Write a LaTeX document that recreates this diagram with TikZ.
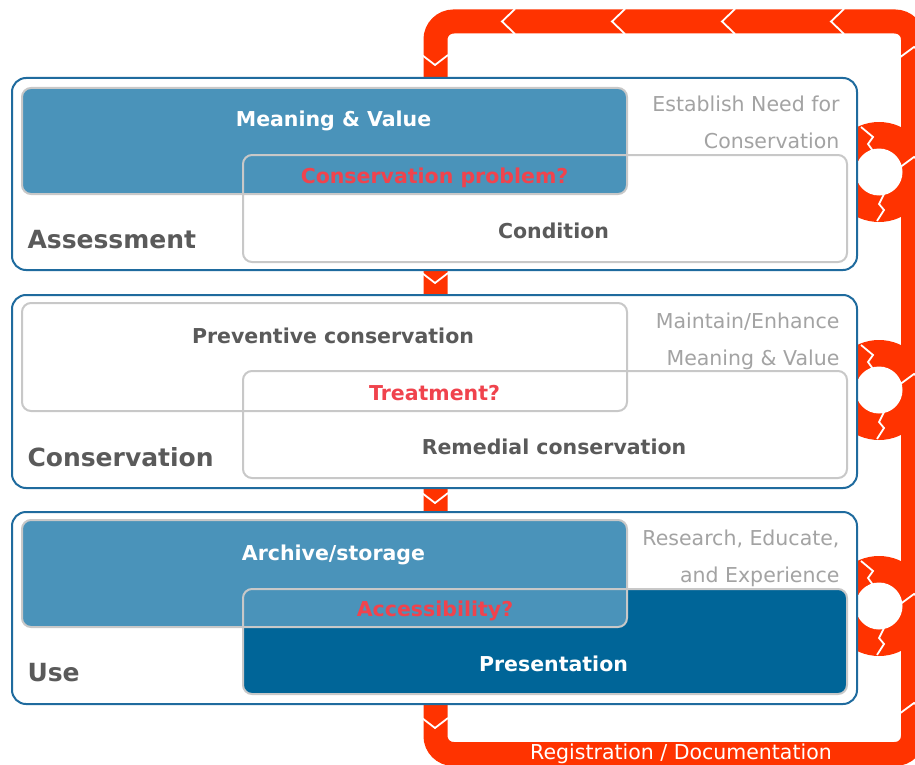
\documentclass[tikz,border=0pt]{standalone}
\usepackage{fontspec}
\setmainfont{DejaVu Sans}
\usetikzlibrary{calc}
\definecolor{looprd}{HTML}{FF3300}
\definecolor{panelblue}{HTML}{1F6B9E}
\definecolor{lightbox}{HTML}{4A93BA}
\definecolor{darkbox}{HTML}{006598}
\definecolor{boxgrey}{HTML}{C8C8C8}
\definecolor{labelgrey}{HTML}{5A5A5A}
\definecolor{askred}{HTML}{F0434D}
\definecolor{notegrey}{HTML}{A3A3A3}

\begin{document}
\begin{tikzpicture}[x=1pt,y=-1pt,
    panel/.style={draw=panelblue, line width=2pt, fill=white, rounded corners=14pt},
    box/.style={draw=boxgrey, line width=2pt, rounded corners=9pt},
    cut/.style={white, line width=1.8pt},
    boxtext/.style={font=\fontsize{20.5}{24}\selectfont\bfseries, anchor=base},
    asktext/.style={boxtext, text=askred},
    section/.style={font=\fontsize{25}{30}\selectfont\bfseries, text=labelgrey, anchor=base west},
    note/.style={font=\fontsize{20.5}{24}\selectfont, text=notegrey, anchor=base east}]
        \useasboundingbox (0,0) rectangle (915,765);
        \clip (0,0) rectangle (915,765);
        % Draw the registration loop
        \draw[looprd, line width=24pt, rounded corners=18pt] (435.5,21.5) rectangle (913,754);
        \foreach \cy in {172,390,606} {
            \fill[looprd] (879,\cy) circle (50pt);
            \fill[white] (879,\cy) circle (23.5pt);
            \draw[cut] ($(879,\cy)+(-18,-45)$) -- ++(12,10) -- ++(-5,7) -- ++(5,7);
            \draw[cut] ($(879,\cy)+(5,22)$) -- ++(-5,10) -- ++(5,6) -- ++(-7,11);
        }
        % Add chevrons to the loop
        \foreach \x in {502,612,722,831} \draw[cut] (\x+13,9) -- (\x,21.5) -- (\x+13,34);
        \foreach \y in {65,283,503,728} \draw[cut] (422,\y-10) -- (435,\y) -- (448,\y-10);
        \foreach \y in {47,157,374,594,703} \draw[cut] (899,\y+11) -- (914,\y) -- (929,\y+11);
        \node[font=\fontsize{20.5}{24}\selectfont, text=white, anchor=base] (registration) at (681,759.5) {Registration / Documentation};
        % Assessment
        \draw[panel] (12,78) rectangle (857,270);
        \draw[box, fill=lightbox] (22,88) rectangle (627,194);
        \draw[box] (243,155) rectangle (847,262);
        \node[boxtext, text=white] (meaning) at (333.5,127) {Meaning \& Value};
        \node[asktext] (problem) at (434.5,183) {Conservation problem?};
        \node[boxtext, text=labelgrey] (condition) at (553.5,238) {Condition};
        \node[section] (assessment) at (24,248.5) {Assessment};
        \node[note] (need) at (843,112) {Establish Need for};
        \node[note] (needb) at (843,149) {Conservation};
        % Conservation
        \draw[panel] (12,295) rectangle (857,488);
        \draw[box] (22,303) rectangle (627,411);
        \draw[box] (243,371) rectangle (847,478);
        \node[boxtext, text=labelgrey] (preventive) at (333,343) {Preventive conservation};
        \node[asktext] (treatment) at (434.5,400) {Treatment?};
        \node[boxtext, text=labelgrey] (remedial) at (554,454) {Remedial conservation};
        \node[section] (conservation) at (24,466.5) {Conservation};
        \node[note] (maintain) at (843,328) {Maintain/Enhance};
        \node[note] (maintainb) at (843,365) {Meaning \& Value};
        % Use
        \draw[panel] (12,512) rectangle (857,704);
        \fill[darkbox, rounded corners=9pt] (243,589) rectangle (847,694);
        \draw[box, fill=lightbox] (22,520) rectangle (627,627);
        \draw[box] (243,589) rectangle (847,694);
        \node[boxtext, text=white] (archive) at (333.5,560) {Archive/storage};
        \node[asktext] (access) at (435,616) {Accessibility?};
        \node[boxtext, text=white] (presentation) at (553.5,671) {Presentation};
        \node[section] (use) at (24,681.5) {Use};
        \node[note] (research) at (843,545) {Research, Educate,};
        \node[note] (researchb) at (843,582) {and Experience};
    \end{tikzpicture}
\end{document}
